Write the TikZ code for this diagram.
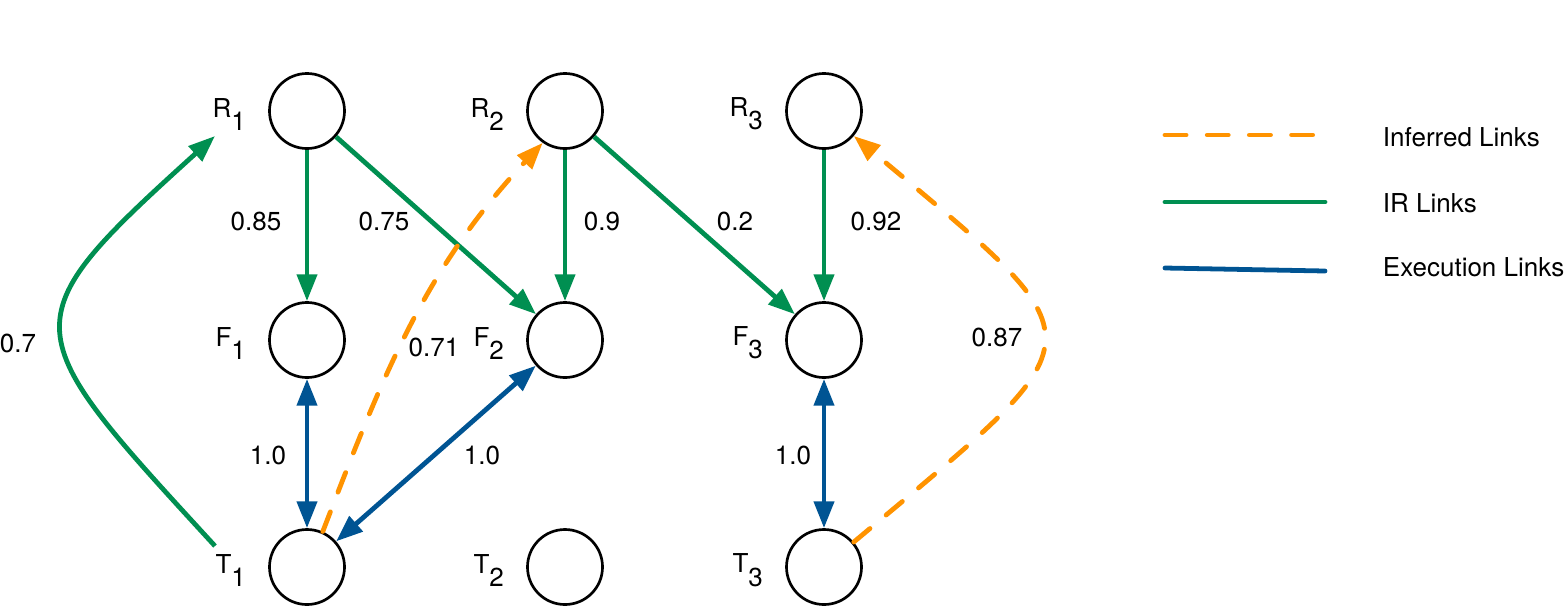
\documentclass[tikz,border=0pt]{standalone}
\usepackage{fontspec}
\setmainfont{TeX Gyre Heros}
\usetikzlibrary{arrows.meta,positioning}
\definecolor{irgreen}{HTML}{008F51}
\definecolor{exblue}{HTML}{005493}
\definecolor{inforange}{HTML}{FF9300}
\newcommand{\lowsub}[1]{\raisebox{-0.5em}{#1}}
\tikzset{
  artifact/.style={circle, draw, line width=1.9pt, minimum size=1.875cm, inner sep=0pt},
  tag/.style={inner sep=0pt, yshift=-0.08cm},
  ir/.style={draw=irgreen, line width=3.4pt, -{Triangle[length=19pt,width=14pt]}},
  exec/.style={draw=exblue, line width=3.4pt, {Triangle[length=19pt,width=14pt]}-{Triangle[length=19pt,width=14pt]}},
  inferred/.style={draw=inforange, line width=3.4pt, line cap=round, dash pattern=on 15pt off 15pt, -{Triangle[length=19pt,width=14pt]}}
}

\begin{document}
\begin{tikzpicture}[x=0.025cm, y=-0.025cm, every node/.style={font=\fontsize{18.5}{22}\selectfont}]
  \useasboundingbox (0,0) rectangle (1565,607);
  % artifacts
  \node[artifact] (R1) at (307,111) {};
  \node[artifact] (R2) at (565,111) {};
  \node[artifact] (R3) at (824,111) {};
  \node[artifact] (F1) at (307,340) {};
  \node[artifact] (F2) at (565,340) {};
  \node[artifact] (F3) at (824,340) {};
  \node[artifact] (T1) at (307,567) {};
  \node[artifact] (T2) at (565,567) {};
  \node[artifact] (T3) at (824,567) {};
  \node[tag, left=0.55cm of R1] (lR1) {R\lowsub{1}};
  \node[tag, left=0.55cm of R2] (lR2) {R\lowsub{2}};
  \node[tag, left=0.55cm of R3] (lR3) {R\lowsub{3}};
  \node[tag, left=0.55cm of F1] (lF1) {F\lowsub{1}};
  \node[tag, left=0.55cm of F2] (lF2) {F\lowsub{2}};
  \node[tag, left=0.55cm of F3] (lF3) {F\lowsub{3}};
  \node[tag, left=0.55cm of T1] (lT1) {T\lowsub{1}};
  \node[tag, left=0.55cm of T2] (lT2) {T\lowsub{2}};
  \node[tag, left=0.55cm of T3] (lT3) {T\lowsub{3}};
  % weights
  \node (w1) at (256,221) {0.85};
  \node (w2) at (384,221) {0.75};
  \node (w3) at (602,221) {0.9};
  \node (w4) at (735,221) {0.2};
  \node (w5) at (876,221) {0.92};
  \node (w6) at (18,343) {0.7};
  \node (w7) at (434,347) {0.71};
  \node (w8) at (997,337) {0.87};
  \node (w9) at (268,455) {1.0};
  \node (w10) at (482,455) {1.0};
  \node (w11) at (793,455) {1.0};
  % links
  \draw[ir] (R1) -- (F1);
  \draw[ir] (R1) -- (F2);
  \draw[ir] (R2) -- (F2);
  \draw[ir] (R2) -- (F3);
  \draw[ir] (R3) -- (F3);
  \draw[exec] (F1) -- (T1);
  \draw[exec] (F2) -- (T1);
  \draw[exec] (F3) -- (T3);
  \coordinate (t1tail) at (215,546);
  \coordinate (r1head) at (215,136);
  \draw[ir] (t1tail) .. controls (15,328) and (7,324) .. (r1head);
  \draw[inferred] (T1.66) .. controls (384,372) and (425,269) .. (R2.235);
  \draw[inferred] (T3.40) .. controls (1106,331) and (1106,347) .. (R3.-40);
  % legend
  \coordinate (infA) at (1165,135);
  \coordinate (infB) at (1325,135);
  \coordinate (irA) at (1165,202);
  \coordinate (irB) at (1325,202);
  \coordinate (exA) at (1165,268);
  \coordinate (exB) at (1325,271);
  \draw[inferred, -] (infA) -- (infB);
  \draw[ir, -, line cap=round] (irA) -- (irB);
  \draw[exec, -, line cap=round] (exA) -- (exB);
  \node[anchor=west] (lgInf) at (1378,137) {Inferred Links};
  \node[anchor=west] (lgIR) at (1378,203) {IR Links};
  \node[anchor=west] (lgEx) at (1378,267) {Execution Links};
\end{tikzpicture}
\end{document}
